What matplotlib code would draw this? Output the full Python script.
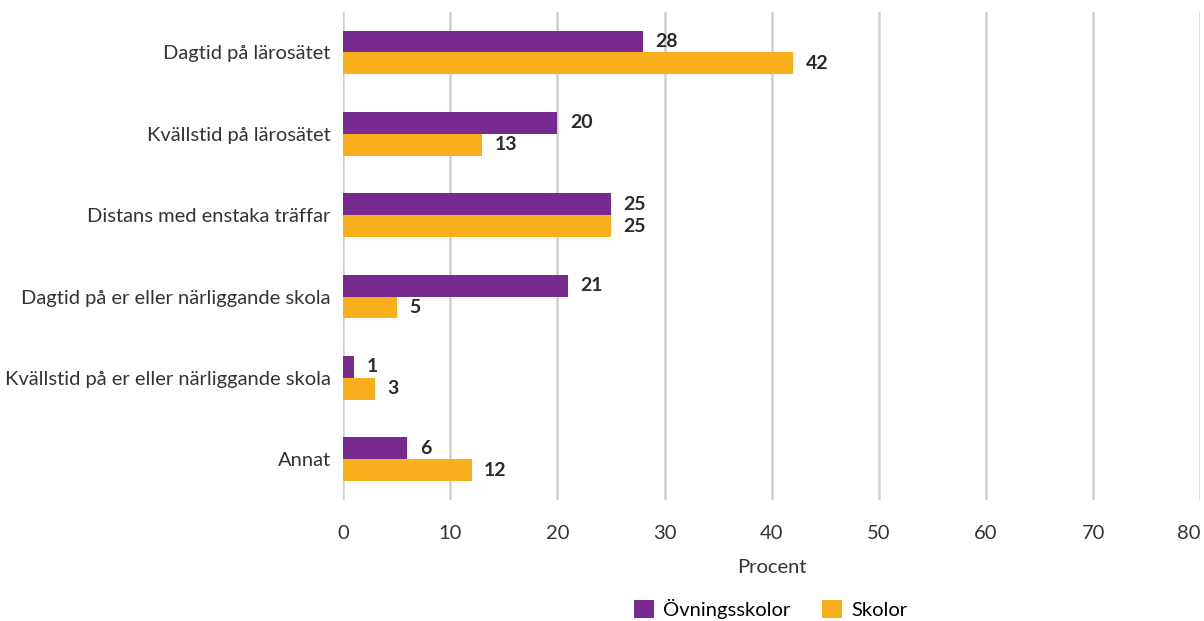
import numpy as np
import matplotlib.pyplot as plt

plt.rcParams['font.family'] = ['Lato', 'DejaVu Sans']

# Data
categories = ["Dagtid på lärosätet", "Kvällstid på lärosätet", "Distans med enstaka träffar",
              "Dagtid på er eller närliggande skola", "Kvällstid på er eller närliggande skola", "Annat"]
ovningsskolor = [28, 20, 25, 21, 1, 6]
skolor = [42, 13, 25, 5, 3, 12]
series_names = ["Övningsskolor", "Skolor"]
colors = ["#772B8F", "#F9AE1B"]

fig = plt.figure(figsize=(12.04, 6.21), dpi=100)
ax = fig.add_axes([0.285, 0.195, 0.712, 0.786])

y = np.arange(len(categories))
h = 0.27
b1 = ax.barh(y - h / 2, ovningsskolor, height=h, color=colors[0], label=series_names[0], zorder=3)
b2 = ax.barh(y + h / 2, skolor, height=h, color=colors[1], label=series_names[1], zorder=3)

for bars, vals in ((b1, ovningsskolor), (b2, skolor)):
    for bar, v in zip(bars, vals):
        ax.annotate(str(v), (bar.get_width(), bar.get_y() + bar.get_height() / 2),
                    xytext=(9, 0), textcoords="offset points", va="center", ha="left",
                    fontsize=14, fontweight="bold", color="#2a2a2a")

ax.set_xlim(0, 80)
ax.set_ylim(5.5, -0.5)
ax.set_xticks(np.arange(0, 81, 10))
ax.set_yticks(y)
ax.set_yticklabels(categories, fontsize=14.5, color="#333333")
ax.tick_params(axis="x", labelsize=14.5, labelcolor="#333333", length=0, pad=18)
ax.tick_params(axis="y", length=0, pad=9)
ax.get_xticklabels()[-1].set_ha("right")

ax.grid(axis="x", color="#d0d0d0", linewidth=1.8, zorder=0)
for s in ax.spines.values():
    s.set_visible(False)

ax.set_xlabel("Procent", fontsize=14.5, color="#333333", labelpad=12)

fig.legend(loc="center", bbox_to_anchor=(0.64, 12 / 621), ncol=2, frameon=False,
           handlelength=1.0, handleheight=1.0, handletextpad=0.45, columnspacing=1.6,
           prop={"size": 14.5})

fig.savefig("out.png", dpi=100)
